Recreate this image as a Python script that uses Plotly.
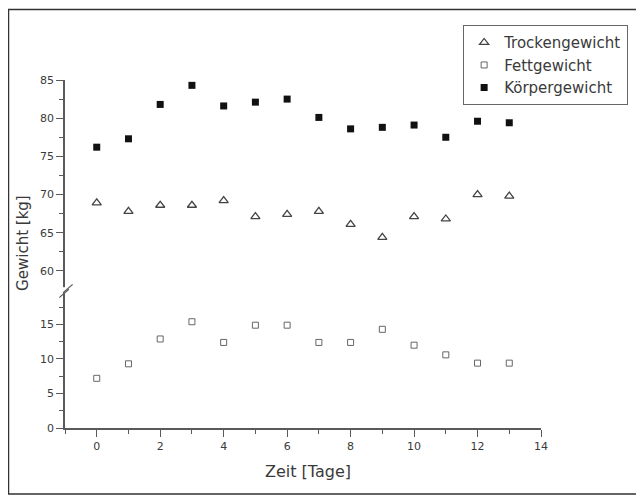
import plotly.graph_objects as go

tage = list(range(14))
trockengewicht = [68.9, 67.8, 68.6, 68.6, 69.2, 67.1, 67.4, 67.8, 66.1, 64.4, 67.1, 66.8, 70.0, 69.8]
fettgewicht = [7.2, 9.3, 12.9, 15.4, 12.4, 14.9, 14.9, 12.4, 12.4, 14.3, 12.0, 10.6, 9.4, 9.4]
koerpergewicht = [76.2, 77.3, 81.8, 84.3, 81.6, 82.1, 82.5, 80.1, 78.6, 78.8, 79.1, 77.5, 79.6, 79.4]

x_ticks = [0, 2, 4, 6, 8, 10, 12, 14]
lower_ticks = [0, 5, 10, 15]
upper_ticks = [60, 65, 70, 75, 80, 85]

FONT = "DejaVu Sans, Liberation Sans, Arial, sans-serif"
AX = "#5a5a5a"
TXT = "#3a3a3a"
brk = 0.3966

fig = go.Figure()
fig.add_trace(go.Scatter(x=tage, y=trockengewicht, mode="markers", name="Trockengewicht",
                         yaxis="y2",
                         marker=dict(symbol="triangle-up-open", size=8, color="#444444",
                                     line=dict(width=1.3, color="#444444"))))
fig.add_trace(go.Scatter(x=tage, y=fettgewicht, mode="markers", name="Fettgewicht",
                         yaxis="y",
                         marker=dict(symbol="square-open", size=6, color="#666666",
                                     line=dict(width=1, color="#666666"))))
fig.add_trace(go.Scatter(x=tage, y=koerpergewicht, mode="markers", name="Körpergewicht",
                         yaxis="y2",
                         marker=dict(symbol="square", size=7, color="#111111")))

common_ticks = dict(ticks="outside", ticklen=7, tickwidth=1.2, tickcolor=AX,
                    showline=True, linecolor=AX, linewidth=1.5, showgrid=False,
                    zeroline=False, tickfont=dict(family=FONT, size=11, color=TXT))

fig.update_layout(
    width=636, height=488,
    margin=dict(l=57, r=103, t=72, b=68, autoexpand=False),
    paper_bgcolor="white", plot_bgcolor="white",
    font=dict(family=FONT, color=TXT),
    showlegend=True,
    xaxis=dict(range=[-1, 14], tickvals=x_ticks, anchor="y", ticklabelstandoff=0,
               minor=dict(dtick=1, tick0=0, ticks="outside", ticklen=4, tickcolor=AX),
               **common_ticks),
    yaxis=dict(domain=[0, brk], range=[0, 20], tickvals=lower_ticks, anchor="x",
               ticklabelstandoff=0,
               minor=dict(tickvals=[2.5, 7.5, 12.5, 17.5], ticks="outside", ticklen=4, tickcolor=AX),
               **common_ticks),
    yaxis2=dict(domain=[brk, 1], range=[57.5, 85], tickvals=upper_ticks, anchor="x",
                ticklabelstandoff=0,
                minor=dict(tickvals=[62.5, 67.5, 72.5, 77.5, 82.5], ticks="outside", ticklen=4, tickcolor=AX),
                **common_ticks),
    legend=dict(x=0.836, y=1.158, xanchor="left", yanchor="top",
                bordercolor="#666666", borderwidth=1.2, bgcolor="white",
                font=dict(family=FONT, size=15, color=TXT),
                tracegroupgap=0, itemsizing="trace"),
    annotations=[
        dict(text="Zeit [Tage]", xref="paper", yref="paper", x=0.51, y=-0.126,
             showarrow=False, font=dict(family=FONT, size=16, color=TXT),
             xanchor="center", yanchor="middle"),
        dict(text="Gewicht [kg]", xref="paper", yref="paper", x=-0.0882, y=0.532,
             showarrow=False, textangle=-90, font=dict(family=FONT, size=15, color=TXT),
             xanchor="center", yanchor="middle"),
    ],
    shapes=[
        dict(type="rect", xref="paper", yref="paper", x0=-0.1187, x1=1.35, y0=-0.19, y1=1.2026,
             line=dict(color="#333333", width=1.5), fillcolor="rgba(0,0,0,0)", layer="below"),
        dict(type="rect", xref="paper", yref="paper", x0=-0.006, x1=0.006, y0=brk - 0.008, y1=brk + 0.008,
             line=dict(width=0), fillcolor="white", layer="above"),
        dict(type="line", xref="paper", yref="paper", x0=-0.012, x1=0.008, y0=brk - 0.022, y1=brk + 0.002,
             line=dict(color=AX, width=1.2)),
        dict(type="line", xref="paper", yref="paper", x0=-0.004, x1=0.016, y0=brk - 0.008, y1=brk + 0.016,
             line=dict(color=AX, width=1.2)),
    ],
)

fig.write_html("out.html")
